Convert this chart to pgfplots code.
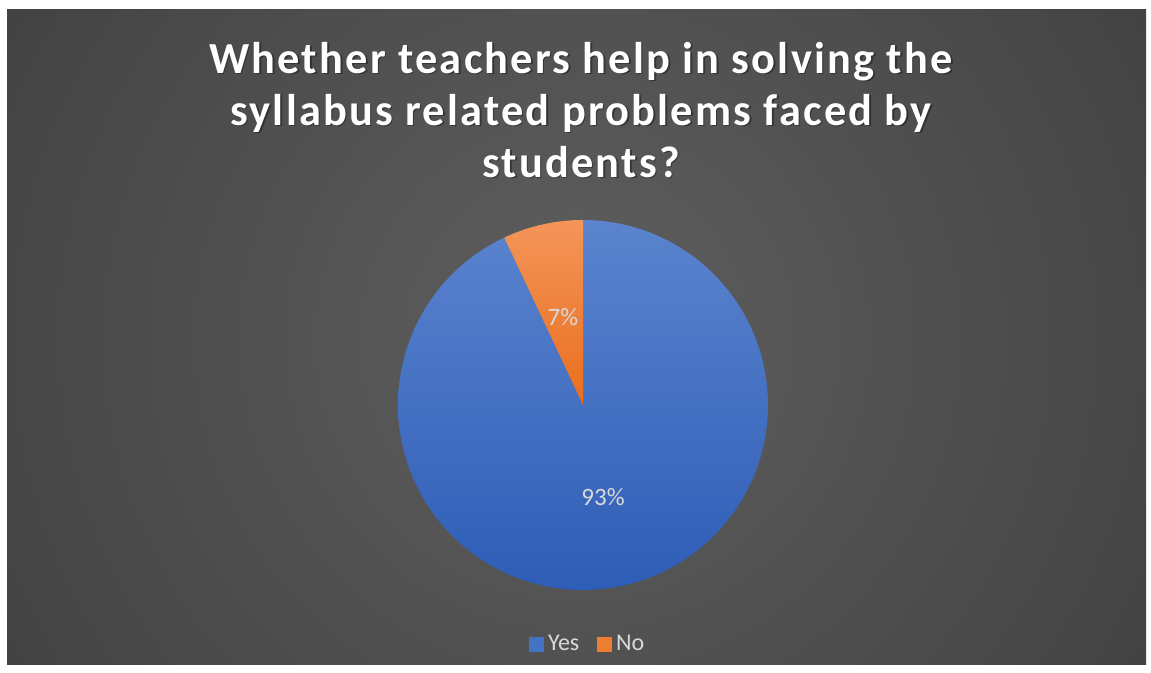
\documentclass[border=0pt]{standalone}
\usepackage{pgfplots}
\pgfplotsset{compat=1.18}
\usepackage{pgfplotstable}
\usepackage{fontspec}
\setmainfont{Carlito}
\newfontfamily\titlefont{Carlito}[LetterSpace=5]

\definecolor{bgin}{HTML}{5F5F5F}
\definecolor{bgout}{HTML}{262626}
\definecolor{blueT}{HTML}{5B84CE}
\definecolor{blueB}{HTML}{2E5DB7}
\definecolor{blueL}{HTML}{4472C4}
\definecolor{orgT}{HTML}{F4955A}
\definecolor{orgB}{HTML}{E86E1C}
\definecolor{orgL}{HTML}{ED7D31}
\definecolor{lbl}{HTML}{D9D9D9}

\pgfdeclareradialshading{bgshade}{\pgfpoint{0bp}{0bp}}{color(0bp)=(bgin); color(50bp)=(bgout)}

\pgfplotstableread{
label value
Yes 93
No 7
}\piedata

\begin{document}%
\begin{tikzpicture}
\pgfplotstablegetelem{0}{value}\of\piedata \let\vyes\pgfplotsretval
\pgfplotstablegetelem{1}{value}\of\piedata \let\vno\pgfplotsretval
\pgfmathsetmacro\tot{\vyes+\vno}
\pgfmathsetmacro\aNo{90+360*\vno/\tot}
\pgfmathsetmacro\aEnd{450}
\begin{axis}[
  scale only axis, width=575.5pt, height=336.5pt,
  xmin=0, xmax=1151, ymin=0, ymax=673,
  axis lines=none, clip=false,
  legend columns=2,
  legend style={at={(rel axis cs:0.5115,0.0425)}, anchor=center, draw=none, fill=none,
    text=lbl, font=\fontsize{12}{14}\selectfont,
    inner sep=0pt,
    /tikz/every even column/.append style={column sep=7pt}},
  legend image code/.code={\fill[#1] (0pt,-3.6pt) rectangle (7.4pt,3.8pt);},
]
% background
\fill[white] (axis cs:0,0) rectangle (axis cs:1151,673);
\begin{pgfinterruptboundingbox}
\begin{scope}
\clip (axis cs:7,8) rectangle (axis cs:1146,663);
\shade[shading=bgshade] (axis cs:577,335) circle (330pt);
\end{scope}
\end{pgfinterruptboundingbox}
% title
\node[text=black, opacity=0.35, align=center, font=\titlefont\fontsize{22.2}{26}\bfseries\selectfont]
  at (axis cs:582.5,561.5) {Whether teachers help in solving the\\syllabus related problems faced by\\students?};
\node[text=white, align=center, font=\titlefont\fontsize{22.2}{26}\bfseries\selectfont]
  at (axis cs:581,563) {Whether teachers help in solving the\\syllabus related problems faced by\\students?};
% slices
\addplot[forget plot, draw=none, top color=blueT, bottom color=blueB, domain=\aNo:\aEnd, samples=200]
  ({583+185*cos(x)}, {268+185*sin(x)}) -- (axis cs:583,268) -- cycle;
\addplot[forget plot, draw=none, top color=orgT, bottom color=orgB, domain=90:\aNo, samples=40]
  ({583+185*cos(x)}, {268+185*sin(x)}) -- (axis cs:583,268) -- cycle;
% data labels
\node[text=lbl, font=\fontsize{12.5}{14}\selectfont] at (axis cs:563,356) {7\%};
\node[text=lbl, font=\fontsize{12.5}{14}\selectfont] at (axis cs:603,176) {93\%};
\addlegendimage{fill=blueL, draw=none}
\addlegendentry{Yes}
\addlegendimage{fill=orgL, draw=none}
\addlegendentry{No}
\end{axis}
\pgfresetboundingbox
\path (current axis.south west) rectangle (current axis.north east);
\end{tikzpicture}%
\end{document}
